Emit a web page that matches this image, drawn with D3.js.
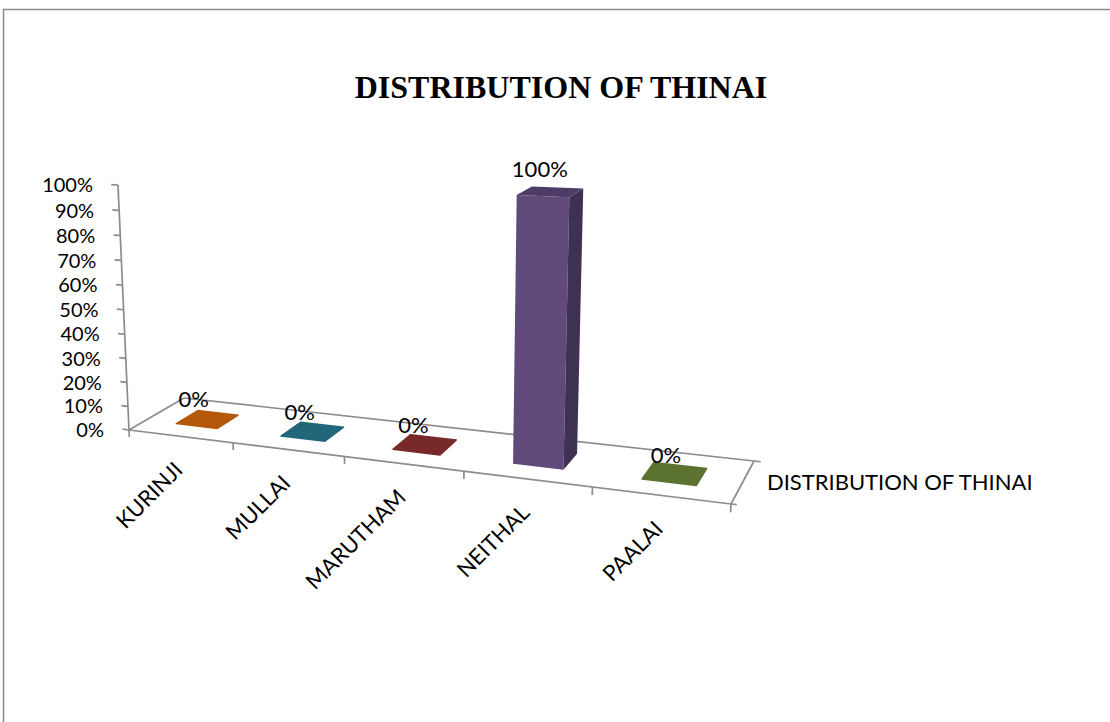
<!DOCTYPE html>
<html>
<head>
<meta charset="utf-8">
<script src="https://cdn.jsdelivr.net/npm/d3@7"></script>
<style>
  body { margin: 0; background: #fff; }
  svg { display: block; }
  text { font-family: Lato, "Open Sans", sans-serif; fill: #000; }
</style>
</head>
<body>
<svg id="chart" width="1110" height="722"></svg>
<script>
// ---- data ----
const categories = ["KURINJI", "MULLAI", "MARUTHAM", "NEITHAL", "PAALAI"];
const values = [0, 0, 0, 1, 0];
const valueLabels = ["0%", "0%", "0%", "100%", "0%"];
const barColors = ["#b4580a", "#22667a", "#78292a", "#604a7b", "#5c7330"];
const yTickValues = [0, 0.1, 0.2, 0.3, 0.4, 0.5, 0.6, 0.7, 0.8, 0.9, 1];
const seriesName = "DISTRIBUTION OF THINAI";
const chartTitle = "DISTRIBUTION OF THINAI";

// ---- layout ----
const W = 1110, H = 722;
const svg = d3.select("#chart");
const axisColor = "#8c8c8c";

// floor corners on screen: front-left, front-right, back-right, back-left
const floor = { fl: [129, 430], fr: [731, 504], br: [754, 461], bl: [184, 398] };
const valueAxisTopY = 185;      // screen y of the value axis at 100%
const verticalVanishY = 7000;   // vertical lines converge far below the plot

// ---- scales in world units (X along categories, Z depth, Y height) ----
const x = d3.scaleBand().domain(categories).range([0, 1]).paddingInner(0.6).paddingOuter(0.3);
const z = d3.scaleBand().domain([seriesName]).range([0, 1]).paddingInner(0.6).paddingOuter(0.3);
const y = d3.scaleLinear().domain([0, 1]).range([0, 1]);

// ---- perspective projection: floor homography + vertical vanishing point ----
function squareToQuad(p0, p1, p2, p3) {
  const [x0, y0] = p0, [x1, y1] = p1, [x2, y2] = p2, [x3, y3] = p3;
  const dx1 = x1 - x2, dx2 = x3 - x2, dx3 = x0 - x1 + x2 - x3;
  const dy1 = y1 - y2, dy2 = y3 - y2, dy3 = y0 - y1 + y2 - y3;
  const den = dx1 * dy2 - dx2 * dy1;
  const g = (dx3 * dy2 - dx2 * dy3) / den;
  const h = (dx1 * dy3 - dx3 * dy1) / den;
  return {
    a: x1 - x0 + g * x1, b: x3 - x0 + h * x3, c: x0,
    d: y1 - y0 + g * y1, e: y3 - y0 + h * y3, f: y0,
    g, h
  };
}
const Hm = squareToQuad(floor.fl, floor.fr, floor.br, floor.bl);
const topX = floor.fl[0] - 11;
const Vy = verticalVanishY;
const Vx = floor.fl[0] + (Vy - floor.fl[1]) * (floor.fl[0] - topX) / (floor.fl[1] - valueAxisTopY);
const lam = (valueAxisTopY - floor.fl[1]) / (Vy - valueAxisTopY);

function project(X, Y, Z) {
  const hx = Hm.a * X + Hm.b * Z + Hm.c + Y * lam * Vx;
  const hy = Hm.d * X + Hm.e * Z + Hm.f + Y * lam * Vy;
  const hw = Hm.g * X + Hm.h * Z + 1 + Y * lam;
  return [hx / hw, hy / hw];
}
const line = d3.line();

// ---- outer frame ----
svg.append("rect")
  .attr("x", 3.5).attr("y", 9.5).attr("width", W + 40).attr("height", H + 40)
  .attr("fill", "#fff").attr("stroke", "#8a8a8a").attr("stroke-width", 1.5);

// ---- title ----
svg.append("text")
  .attr("x", 561).attr("y", 98)
  .attr("text-anchor", "middle")
  .style("font-family", "'Liberation Serif', 'Times New Roman', serif")
  .style("font-weight", "bold")
  .style("font-size", "32px")
  .text(chartTitle);

const gAxes = svg.append("g")
  .attr("fill", "none").attr("stroke", axisColor).attr("stroke-width", 1.7);

// floor outline
const floorEdges = [
  [[0, 0, 0], [1, 0, 0]],    // front
  [[0, 0, 1], [1.01, 0, 1]], // back, slight overhang
  [[0, 0, 0], [0, 0, 1]],    // left
  [[1, 0, 0], [1, 0, 1]],    // right (series axis)
  [[1, 0, 0], [1.008, 0, 0]]
];
floorEdges.forEach(([p, q]) => {
  gAxes.append("path").attr("d", line([project(...p), project(...q)]));
});

// category tick marks along the front edge
d3.range(categories.length + 1).forEach(i => {
  const u = i * x.step();
  gAxes.append("path").attr("d", line([project(u, 0, 0), project(u, -0.03, 0)]));
});

// value axis with ticks
gAxes.append("path").attr("d", line([project(0, y(0), 0), project(0, y(1), 0)]));
yTickValues.forEach(v => {
  gAxes.append("path").attr("d", line([project(0, y(v), 0), project(-0.013, y(v), 0)]));
});

// value tick labels
const fmt = d3.format(".0%");
svg.append("g").selectAll("text").data(yTickValues).join("text")
  .attr("x", d => project(0, y(d), 0)[0] - 25)
  .attr("y", d => project(0, y(d), 0)[1])
  .attr("dy", "0.36em")
  .attr("text-anchor", "end")
  .style("font-size", "20px")
  .text(d => fmt(d));

// ---- bars ----
const bars = svg.append("g");
categories.forEach((cat, i) => {
  const x0 = x(cat), x1 = x(cat) + x.bandwidth();
  const z0 = z(seriesName), z1 = z(seriesName) + z.bandwidth();
  const h = y(values[i]);
  const base = d3.color(barColors[i]);
  const front = [project(x0, 0, z0), project(x1, 0, z0), project(x1, h, z0), project(x0, h, z0)];
  const side = [project(x1, 0, z0), project(x1, 0, z1), project(x1, h, z1), project(x1, h, z0)];
  const top = [project(x0, h, z0), project(x1, h, z0), project(x1, h, z1), project(x0, h, z1)];
  if (h > 0) {
    bars.append("path").attr("d", line(front) + "Z").attr("fill", base.formatHex());
    bars.append("path").attr("d", line(side) + "Z").attr("fill", "#3f3152");
    bars.append("path").attr("d", line(top) + "Z").attr("fill", "#4d3d66");
  } else {
    bars.append("path").attr("d", line(top) + "Z").attr("fill", base.formatHex())
      .attr("stroke", base.formatHex()).attr("stroke-width", 1.5).attr("stroke-linejoin", "round");
  }
  const lp = project(x0 + x.bandwidth() / 2, h, z0);
  bars.append("text")
    .attr("x", lp[0] - 3).attr("y", lp[1] - 19)
    .attr("text-anchor", "middle")
    .style("font-size", "22px")
    .text(valueLabels[i]);
});

// ---- category labels, rotated ----
svg.append("g").selectAll("text").data(categories).join("text")
  .attr("transform", d => {
    const p = project(x(d) + x.bandwidth() / 2, 0, 0);
    return `translate(${p[0] + 4},${p[1] + 35}) rotate(-45)`;
  })
  .attr("text-anchor", "end")
  .style("font-size", "22px")
  .text(d => d);

// ---- series (depth axis) label ----
const sp = project(1, 0, 0.5);
svg.append("text")
  .attr("x", sp[0] + 24).attr("y", sp[1])
  .attr("dy", "0.36em")
  .style("font-size", "22px")
  .text(seriesName);
</script>
</body>
</html>
